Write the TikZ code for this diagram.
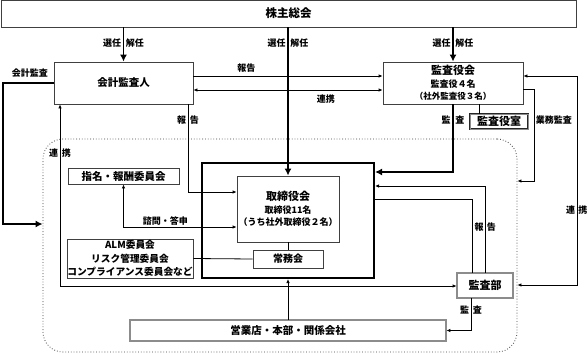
\documentclass[tikz,border=0pt]{standalone}
\usepackage{fontspec}
\setmainfont{Noto Sans CJK JP}
\usetikzlibrary{arrows.meta}

\newcommand\smallj{\fontsize{9}{11}\selectfont}

\begin{document}
\begin{tikzpicture}[
    x=1pt, y=-1pt,
    % Define box styles
    box/.style={draw=black!75, line width=0.8pt, inner sep=0pt, align=center, font=\bfseries\fontsize{10.5}{12.5}\selectfont},
    dbox/.style={box, draw=black!85, double=black!45, double distance=1.2pt},
    % Define connector styles
    link/.style={line width=0.8pt},
    arr/.style={link, -{Latex[length=4pt, width=3.5pt]}},
    biarr/.style={link, {Latex[length=4pt, width=3.5pt]}-{Latex[length=4pt, width=3.5pt]}},
    bigarr/.style={line width=1.8pt, -{Latex[length=7pt, width=7pt]}},
    lbl/.style={font=\bfseries\smallj, inner sep=1.5pt} % Style for texts on connectors
]
\useasboundingbox (0,0) rectangle (588,353);

% Dotted area (連携)
\node[draw=black!75, dotted, line width=0.8pt, rounded corners=20pt, minimum width=474pt, minimum height=213pt] (area) at (280,245.5) {};

% Boxes
\node[box, minimum width=575pt, minimum height=27pt, font=\bfseries\fontsize{11.5}{13}\selectfont] (soukai) at (288.5,13.5) {株主総会};
\node[box, minimum width=139pt, minimum height=42pt] (kaikei) at (123.5,83) {会計監査人};
\node[box, minimum width=140pt, minimum height=42pt, font=\bfseries\fontsize{11}{12.5}\selectfont] (kansayaku) at (453,83)
    {監査役会\\{\smallj 監査役４名}\\{\fontsize{8.5}{11}\selectfont （社外監査役３名）}};
\node[dbox, minimum width=58pt, minimum height=15pt, double distance=0.8pt, font=\bfseries\fontsize{11}{12}\selectfont] (kansashitsu) at (499,121.5) {監査役室};

\node[draw, line width=2pt, minimum width=172pt, minimum height=115pt] (board) at (288,220.5) {};
\node[box, minimum width=102pt, minimum height=66pt, font=\bfseries\fontsize{11}{12.5}\selectfont] (torishimari) at (288,209)
    {取締役会\\{\smallj 取締役11名}\\{\smallj （うち社外取締役２名）}};
\node[box, minimum width=70pt, minimum height=18pt, font=\bfseries\fontsize{10}{12}\selectfont] (joumu) at (288,259) {常務会};

\node[box, minimum width=111pt, minimum height=16pt] (shimei) at (123.5,176) {指名・報酬委員会};
\node[box, minimum width=126pt, minimum height=39pt, font=\bfseries\fontsize{9.7}{13.5}\selectfont] (alm) at (130,258.5)
    {ALM委員会\\リスク管理委員会\\コンプライアンス委員会など};

\node[dbox, minimum width=316pt, minimum height=21pt] (eigyou) at (288,330.5) {営業店・本部・関係会社};
\node[dbox, minimum width=56pt, minimum height=25pt, font=\bfseries\fontsize{11}{12}\selectfont] (kansabu) at (485,285.5) {監査部};

% Election and dismissal
\draw[bigarr] (soukai.south -| kaikei) -- node[lbl, pos=0.46, left] {選任} node[lbl, pos=0.46, right] {解任} (kaikei.north);
\draw[bigarr] (soukai.south -| torishimari) -- node[lbl, pos=0.107, left] {選任} node[lbl, pos=0.107, right] {解任} (torishimari.north);
\draw[bigarr] (soukai.south -| kansayaku) -- node[lbl, pos=0.46, left] {選任} node[lbl, pos=0.46, right] {解任} (kansayaku.north);

% Between the auditors
\draw[arr] ([yshift=7pt]kaikei.east) -- node[lbl, pos=0.28, above=2pt] {報告} ([yshift=7pt]kansayaku.west);
\draw[biarr] ([yshift=-7pt]kaikei.east) -- node[lbl, pos=0.7, below=3pt] {連携} ([yshift=-7pt]kansayaku.west);

% Audits
\draw[bigarr] (kaikei.west) -- node[lbl, pos=0.47, above=3pt] {会計監査} (3,83) -- (3,224) -- (area.west |- 0,224);
\draw[bigarr] (kansayaku.south) -- node[lbl, pos=0.235, left] {監} node[lbl, pos=0.235, right] {査} (453,172) -- (board.east |- 0,172);
\draw[link] (kansayaku.south -| 479,0) -- (kansashitsu.north -| 479,0);
\draw[arr] (kansayaku.east |- 0,89) -- (534,89) -- node[lbl, pos=0.34, right] {業務監査} (534,181) -- (area.east |- 0,181);
\draw[arr] (kansabu.south -| 471,0) -- node[lbl, pos=0.37, left] {監} node[lbl, pos=0.37, right] {査} (471,330.5) -- (eigyou.east);

% Cooperation
\draw[biarr] (kansayaku.east |- 0,76) -- (577,76) -- node[lbl, pos=0.64, left] {連} node[lbl, pos=0.64, right, inner sep=1pt] {携} (577,285) -- (area.east |- 0,285);
\draw[biarr] (kaikei.south -| 60,0) -- node[lbl, pos=0.27, left] {連} node[lbl, pos=0.27, right] {携} (60,286) -- (kansabu.west |- 0,286);

% Reports and consultation
\draw[arr] (kaikei.south -| 188,0) -- node[lbl, pos=0.18, left] {報} node[lbl, pos=0.18, right] {告} (188,192) -- (torishimari.west |- 0,192);
\draw[biarr] (shimei.south) -- (123.5,227) -- node[lbl, pos=0.37, above] {諮問・答申} (torishimari.west |- 0,227);
\draw[arr] (kansabu.north -| 485,0) -- node[lbl, pos=0.53, left, inner sep=1pt] {報} node[lbl, pos=0.53, right] {告} (485,186) -- (board.east |- 0,186);
\draw[link] (board.east |- 0,199) -- (472,199) -- (kansabu.north -| 472,0);

% Board and committees
\draw[link] (torishimari.south) -- (joumu.north);
\draw[link] (alm.east) -- (joumu.west);
\draw[arr] (eigyou.north) -- (board.south);

\end{tikzpicture}
\end{document}
